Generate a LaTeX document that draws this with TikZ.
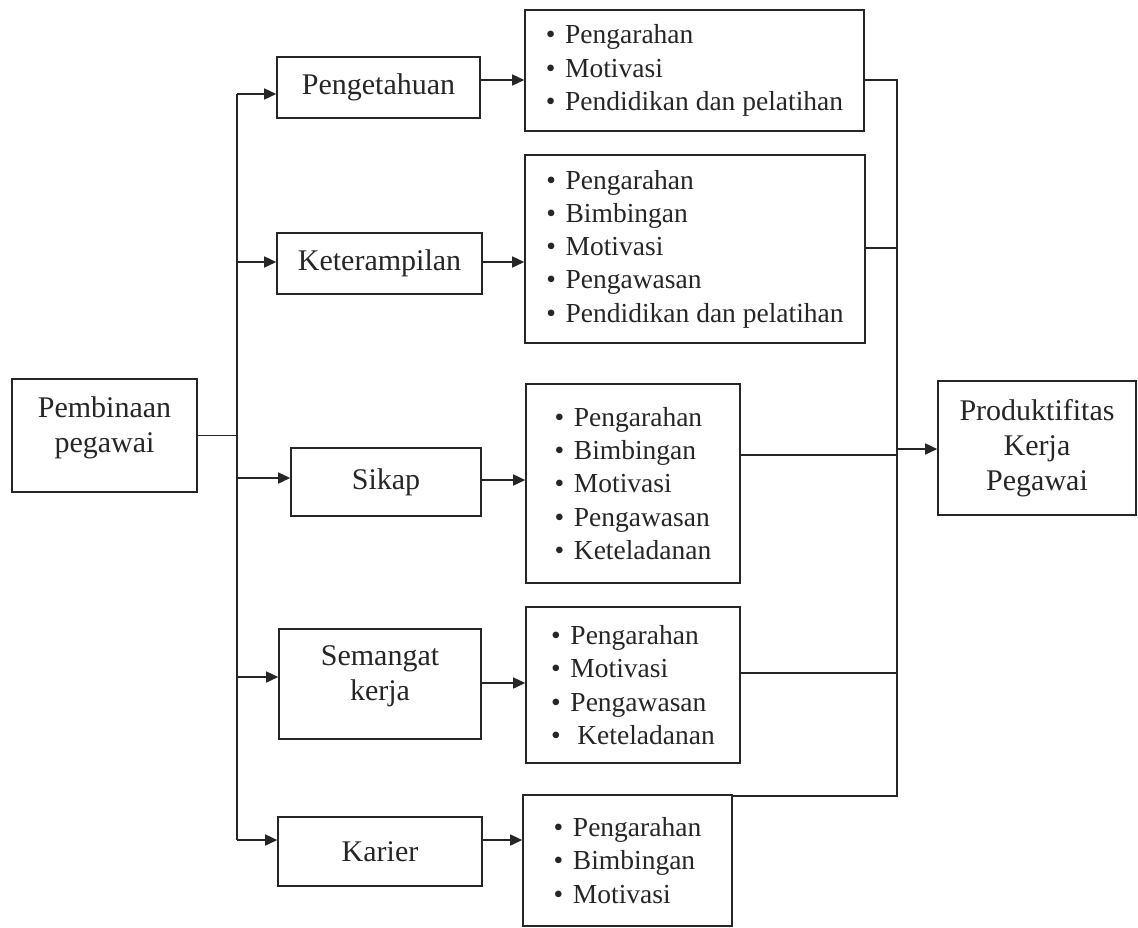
\documentclass[tikz,border=0pt]{standalone}
\usepackage{fontspec}
\setmainfont{Liberation Serif}
\usetikzlibrary{arrows.meta}
\colorlet{ink}{black!85}
\newcommand\bitem{\textbullet\hspace{0.35em}}

\begin{document}
\begin{tikzpicture}[x=0.5pt, y=-0.5pt,
    box/.style={draw=ink, line width=0.8pt, inner sep=0pt, align=center, text=ink,
        font=\fontsize{15}{17.5}\selectfont},
    lst/.style={box, align=left, font=\fontsize{13.75}{16.6}\selectfont},
    conn/.style={draw=ink, line width=0.8pt},
    arr/.style={conn, -{Triangle[length=6pt, width=5.5pt]}}]
    \useasboundingbox (0, 0) rectangle (1138, 927);

    % Main boxes
    \node[box, minimum width=92.5pt, minimum height=56.5pt, text depth=11pt] (pemb) at (104.5, 435.5) {Pembinaan\\pegawai};
    \node[box, minimum width=99pt, minimum height=67pt] (prod) at (1037, 448) {Produktifitas\\Kerja\\Pegawai};

    % Aspects
    \node[box, minimum width=101.5pt, minimum height=30.5pt] (peng) at (378.5, 87.5) {Pengetahuan};
    \node[box, minimum width=102.5pt, minimum height=30.5pt] (ket) at (379.5, 263.5) {Keterampilan};
    \node[box, minimum width=95pt, minimum height=34pt] (sikap) at (386, 482) {Sikap};
    \node[box, minimum width=101pt, minimum height=55pt, text depth=11pt] (sem) at (380, 684) {Semangat\\kerja};
    \node[box, minimum width=102pt, minimum height=34.5pt] (kar) at (380, 851.5) {Karier};

    % Lists of methods
    \node[lst, minimum width=169.5pt, minimum height=60.5pt] (l1) at (694.5, 70.5)
        {\bitem Pengarahan\\\bitem Motivasi\\\bitem Pendidikan dan pelatihan};
    \node[lst, minimum width=170pt, minimum height=94pt] (l2) at (695, 249)
        {\bitem Pengarahan\\\bitem Bimbingan\\\bitem Motivasi\\\bitem Pengawasan\\\bitem Pendidikan dan pelatihan};
    \node[lst, minimum width=107pt, minimum height=99.5pt] (l3) at (633, 483.5)
        {\bitem Pengarahan\\\bitem Bimbingan\\\bitem Motivasi\\\bitem Pengawasan\\\bitem Keteladanan};
    \node[lst, minimum width=107pt, minimum height=78pt] (l4) at (633, 685)
        {\bitem Pengarahan\\\bitem Motivasi\\\bitem Pengawasan\\\bitem\ Keteladanan};
    \node[lst, minimum width=104.5pt, minimum height=65.5pt] (l5) at (627.5, 860.5)
        {\bitem Pengarahan\\\bitem Bimbingan\\\bitem Motivasi};

    % Left trunk
    \coordinate (b1) at (237, 94);
    \coordinate (b2) at (237, 262);
    \coordinate (b3) at (237, 478);
    \coordinate (b4) at (237, 677);
    \coordinate (b5) at (237, 840);
    \draw[conn] (pemb.east) -- (pemb.east -| b1);
    \draw[conn] (b1) -- (b5);
    \foreach \b/\n in {b1/peng, b2/ket, b3/sikap, b4/sem, b5/kar}
        \draw[arr] (\b) -- (\b -| \n.west);

    % Aspect to list
    \foreach \n/\m/\y in {peng/l1/80, ket/l2/262, sikap/l3/480, sem/l4/683, kar/l5/840}
        \draw[arr] (\n.east |- 0,\y) -- (\m.west |- 0,\y);

    % Right bus
    \coordinate (rtop) at (897, 80);
    \coordinate (rbot) at (897, 796);
    \draw[conn] (l1.east |- rtop) -- (rtop) -- (rbot) -- (rbot -| l5.east);
    \foreach \m/\y in {l2/248, l3/455, l4/673}
        \draw[conn] (\m.east |- 0,\y) -- (rtop |- 0,\y);
    \draw[arr] (rtop |- 0,449) -- (prod.west |- 0,449);

\end{tikzpicture}
\end{document}
